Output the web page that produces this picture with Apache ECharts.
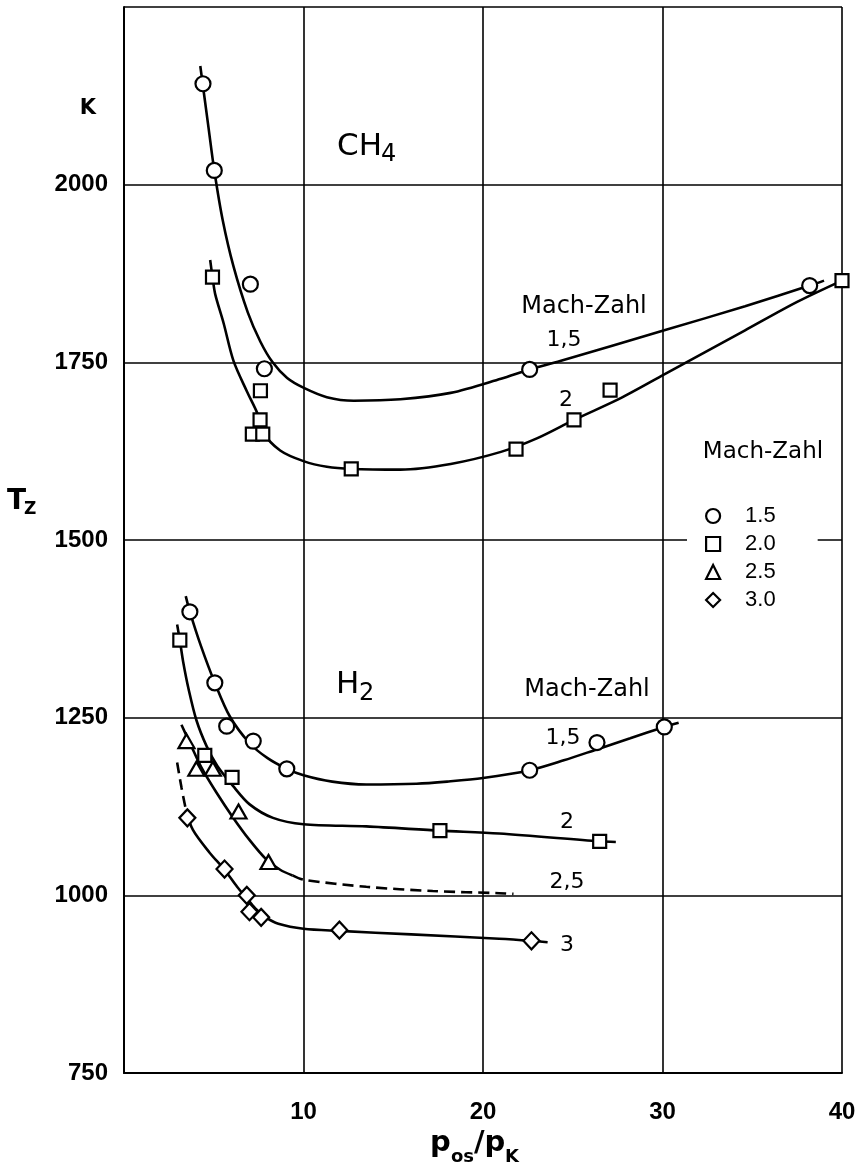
<!DOCTYPE html>
<html>
<head>
<meta charset="utf-8">
<script src="https://cdn.jsdelivr.net/npm/echarts@6/dist/echarts.min.js"></script>
<style>
  html, body { margin: 0; padding: 0; background: #fff; }
  #chart { width: 863px; height: 1166px; }
</style>
</head>
<body>
<div id="chart"></div>
<script>
// Legend entries (Mach number of each symbol)
const machLegend = ['1.5', '2.0', '2.5', '3.0'];
// Tick labels that are printed on the axes
const xTickLabels = ['10', '20', '30', '40'];
const yTickLabels = ['750', '1000', '1250', '1500', '1750', '2000'];

// ---- CH4: measured points [p_os/p_K, T_z (K)] ----
const ch4Mach15Points = [[4.4, 2142], [5.03, 2020], [7.04, 1860], [7.82, 1741], [22.6, 1740], [38.2, 1858]];
const ch4Mach20Points = [[4.93, 1870], [7.6, 1710], [7.58, 1669], [7.15, 1649], [7.73, 1649], [12.66, 1600],
                         [21.84, 1628], [25.07, 1669], [27.08, 1711], [40, 1865]];
// ---- CH4: faired curves ----
const ch4Mach15Curve = [[4.25, 2167], [4.71, 2080], [5.03, 2020], [5.5, 1950], [6.1, 1885], [6.9, 1820],
                        [7.6, 1779], [8.28, 1750], [9.09, 1728], [10.02, 1714], [11.3, 1701], [12.8, 1696],
                        [15.4, 1698], [18.2, 1707], [21.0, 1727], [22.6, 1740], [24.3, 1752], [30.1, 1795],
                        [34.6, 1829], [38.2, 1858], [39.0, 1865]];
const ch4Mach20Curve = [[4.8, 1894], [4.93, 1870], [5.08, 1846], [5.55, 1805], [6.1, 1752], [6.85, 1709],
                        [7.45, 1677], [7.73, 1652], [8.7, 1626], [10.0, 1611], [11.3, 1603], [12.66, 1600],
                        [15.4, 1599], [18.2, 1607], [21.0, 1624], [23.0, 1643], [25.07, 1669], [27.7, 1700],
                        [30.1, 1733], [34.6, 1795], [37.5, 1835], [40, 1865]];

// ---- H2: measured points ----
const h2Mach15Points = [[3.67, 1399], [5.06, 1299], [5.72, 1238], [7.2, 1217], [9.07, 1178],
                        [22.6, 1176], [26.35, 1215], [30.1, 1237]];
const h2Mach20Points = [[3.11, 1359], [4.5, 1197], [6.02, 1166], [17.6, 1091], [26.5, 1076]];
const h2Mach25Points = [[3.48, 1217], [4.03, 1178], [4.95, 1178], [6.38, 1118], [8.05, 1047]];
const h2Mach30Points = [[3.53, 1109], [5.6, 1037], [6.84, 1000], [6.99, 977], [7.64, 969], [12.0, 951], [22.7, 936]];
// ---- H2: faired curves ----
const h2Mach15Curve = [[3.44, 1421], [3.67, 1399], [4.3, 1350], [5.06, 1299], [5.89, 1252], [7.0, 1214],
                       [8.0, 1193], [9.07, 1178], [10, 1169], [11.6, 1160], [13.5, 1156], [16.3, 1157],
                       [18.0, 1160], [20.0, 1165], [22.6, 1176], [24.5, 1190], [26.3, 1205], [28.2, 1221],
                       [30.1, 1237], [30.9, 1243]];
const h2Mach20Curve = [[2.96, 1381], [3.11, 1359], [3.3, 1328], [3.6, 1290], [4.04, 1246], [4.6, 1210],
                       [5.2, 1182], [6.07, 1154], [7.0, 1128], [8.3, 1109], [10, 1100], [13.5, 1097],
                       [17.6, 1091], [20.9, 1087], [26.5, 1076], [27.4, 1075]];
const h2Mach25Curve = [[3.2, 1240], [3.75, 1210], [4.31, 1180], [5.14, 1145], [6.06, 1110], [6.99, 1078],
                       [7.91, 1051], [8.7, 1036], [9.39, 1028]];
const h2Mach25Extrapolated = [[9.39, 1028], [10, 1022], [13.5, 1012], [17.2, 1006], [20.9, 1003], [21.7, 1002]];
const h2Mach30Extrapolated = [[2.96, 1187], [3.2, 1152], [3.45, 1120]];
const h2Mach30Curve = [[3.45, 1120], [3.84, 1092], [4.77, 1060], [5.6, 1036], [6.3, 1012], [6.84, 996],
                       [7.3, 982], [7.9, 969], [8.6, 960], [10, 953], [12.0, 950], [16, 945],
                       [20.9, 939], [22.7, 936], [23.6, 934]];

const FONT_NUM = "'Liberation Sans', Arial, sans-serif";
const FONT_TXT = "'DejaVu Sans', sans-serif";
const INK = '#000';

const openMarker = { color: '#fff', borderColor: INK, borderWidth: 2.2, opacity: 1 };

function curve(name, data, dashed) {
  return {
    type: 'line', name: name, data: data,
    smooth: 0.3,
    symbol: 'none', showSymbol: false, silent: true,
    lineStyle: { color: INK, width: 2.6, type: dashed ? [11, 6] : 'solid' },
    emphasis: { disabled: true }, z: 2
  };
}
function points(name, data, symbol, size) {
  return {
    type: 'scatter', name: name, data: data, symbol: symbol, symbolSize: size,
    itemStyle: openMarker, emphasis: { disabled: true }, z: 3
  };
}

const SYM = { '1.5': ['circle', 15], '2.0': ['rect', 13], '2.5': ['triangle', [16, 14]], '3.0': ['diamond', [16, 17]] };

// Plain text placed at a pixel anchor
function text(x, y, str, size, opts) {
  opts = opts || {};
  return {
    type: 'text', x: x, y: y, silent: true,
    style: { text: str, fontSize: size, fontFamily: opts.family || FONT_TXT, fontWeight: opts.weight || 'normal',
             fill: INK, align: opts.align || 'center', verticalAlign: 'middle' }
  };
}

const chart = echarts.init(document.getElementById('chart'));

chart.setOption({
  animation: false,
  backgroundColor: '#fff',
  grid: { left: 124, right: 21, top: 7, bottom: 93, containLabel: false },
  xAxis: {
    type: 'value', min: 0, max: 40, interval: 10,
    axisLine: { show: true, lineStyle: { color: INK, width: 2 } },
    axisTick: { show: false },
    splitLine: { show: true, lineStyle: { color: INK, width: 1.6 } },
    axisLabel: {
      margin: 27, color: INK, fontSize: 24, fontFamily: FONT_NUM, fontWeight: 'bold',
      formatter: v => (xTickLabels.indexOf(String(v)) >= 0 ? String(v) : '')
    }
  },
  yAxis: {
    type: 'value', min: 750, max: 2250, interval: 250,
    axisLine: { show: true, lineStyle: { color: INK, width: 2 } },
    axisTick: { show: false },
    splitLine: { show: true, lineStyle: { color: INK, width: 1.6 } },
    axisLabel: {
      margin: 16, color: INK, fontSize: 24, fontFamily: FONT_NUM, fontWeight: 'bold',
      formatter: v => (yTickLabels.indexOf(String(v)) >= 0 ? String(v) : '')
    }
  },
  legend: {
    orient: 'vertical', left: 687, top: 494,
    padding: [10, 42, 10, 18],
    backgroundColor: '#fff',
    itemWidth: 14, itemHeight: 14, itemGap: 4,
    selectedMode: false,
    itemStyle: openMarker,
    textStyle: { fontSize: 22, lineHeight: 24, fontFamily: FONT_NUM, color: INK, padding: [0, 0, 0, 20] },
    data: [
      { name: machLegend[0], icon: 'circle' },
      { name: machLegend[1], icon: 'rect' },
      { name: machLegend[2], icon: 'triangle' },
      { name: machLegend[3], icon: 'diamond' }
    ]
  },
  graphic: [
    // unit and axis titles
    text(88, 109, 'K', 21, { weight: 'bold' }),
    text(7, 502, 'T', 28, { weight: 'bold', align: 'left' }),
    text(24, 510, 'Z', 17, { weight: 'bold', align: 'left' }),
    text(430, 1143, 'p', 29, { weight: 'bold', align: 'left' }),
    text(451, 1157, 'os', 18, { weight: 'bold', align: 'left' }),
    text(474, 1143, '/p', 29, { weight: 'bold', align: 'left' }),
    text(505, 1157, 'K', 18, { weight: 'bold', align: 'left' }),
    // gas names
    text(337, 147, 'CH', 31, { align: 'left' }),
    text(381, 155, '4', 24, { align: 'left' }),
    text(336, 685, 'H', 31, { align: 'left' }),
    text(359, 694, '2', 24, { align: 'left' }),
    // curve annotations
    text(584, 307, 'Mach-Zahl', 24),
    text(564, 340, '1,5', 22),
    text(566, 400, '2', 22),
    text(763, 452, 'Mach-Zahl', 23),
    text(587, 690, 'Mach-Zahl', 24),
    text(563, 738, '1,5', 22),
    text(567, 822, '2', 22),
    text(567, 882, '2,5', 22),
    text(567, 945, '3', 22)
  ],
  series: [
    curve('CH4 Ma 1,5', ch4Mach15Curve),
    curve('CH4 Ma 2', ch4Mach20Curve),
    curve('H2 Ma 1,5', h2Mach15Curve),
    curve('H2 Ma 2', h2Mach20Curve),
    curve('H2 Ma 2,5', h2Mach25Curve),
    curve('H2 Ma 2,5 extrapoliert', h2Mach25Extrapolated, true),
    curve('H2 Ma 3 extrapoliert', h2Mach30Extrapolated, true),
    curve('H2 Ma 3', h2Mach30Curve),
    points(machLegend[0], ch4Mach15Points, SYM['1.5'][0], SYM['1.5'][1]),
    points(machLegend[1], ch4Mach20Points, SYM['2.0'][0], SYM['2.0'][1]),
    points(machLegend[0], h2Mach15Points, SYM['1.5'][0], SYM['1.5'][1]),
    points(machLegend[1], h2Mach20Points, SYM['2.0'][0], SYM['2.0'][1]),
    points(machLegend[2], h2Mach25Points, SYM['2.5'][0], SYM['2.5'][1]),
    points(machLegend[3], h2Mach30Points, SYM['3.0'][0], SYM['3.0'][1])
  ]
});
</script>
</body>
</html>
